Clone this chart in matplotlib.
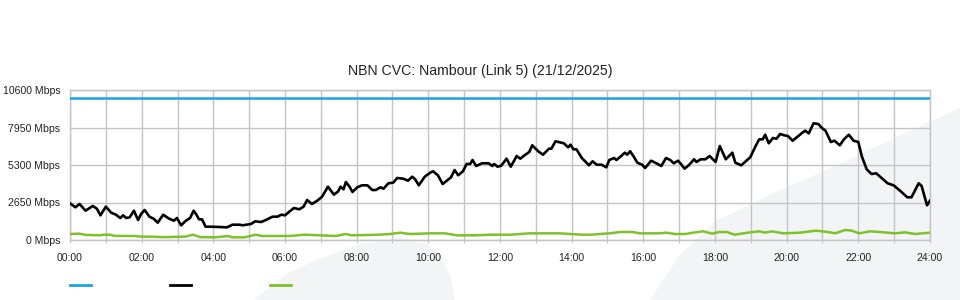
import matplotlib
matplotlib.use("Agg")
import matplotlib.pyplot as plt
from matplotlib.lines import Line2D
from matplotlib.patches import Polygon

plt.rcParams['font.family'] = ['Liberation Sans', 'DejaVu Sans']

title = "NBN CVC: Nambour (Link 5) (21/12/2025)"

capacity_mbps = 10000

traffic_minutes = [0, 9, 16, 26, 38, 45, 51, 60, 69, 77, 84, 89, 94, 100, 107, 114, 119, 125,
                   133, 140, 147, 156, 166, 174, 179, 186, 194, 201, 207, 211, 216, 221, 227, 236,
                   263, 272, 284, 289, 303, 310, 320, 328, 339, 347, 354, 360, 368, 375, 384, 391,
                   397, 405, 414, 422, 432, 442, 449, 453, 458, 462, 468, 473, 481, 489, 498, 506,
                   512, 520, 525, 533, 541, 548, 558, 566, 573, 578, 584, 594, 603, 608, 616, 624,
                   631, 638, 644, 650, 658, 664, 670, 674, 680, 690, 701, 707, 710, 716, 722, 731,
                   738, 748, 754, 761, 769, 774, 784, 792, 802, 806, 813, 823, 827, 834, 838, 843,
                   848, 857, 869, 875, 882, 890, 898, 903, 911, 915, 923, 929, 933, 938, 944, 950,
                   958, 963, 973, 982, 990, 998, 1005, 1011, 1018, 1024, 1029, 1036, 1045, 1049,
                   1056, 1064, 1071, 1081, 1088, 1098, 1109, 1114, 1124, 1139, 1147, 1154, 1160,
                   1164, 1170, 1177, 1183, 1189, 1196, 1202, 1210, 1217, 1225, 1231, 1237, 1245,
                   1253, 1259, 1265, 1274, 1280, 1289, 1296, 1304, 1312, 1320, 1326, 1334, 1342,
                   1350, 1359, 1369, 1379, 1391, 1402, 1409, 1421, 1426, 1435, 1440]
traffic_mbps = [2593, 2311, 2544, 2071, 2403, 2212, 1745, 2353, 1929, 1788, 1555, 1745, 1555, 1604,
                2071, 1413, 1837, 2120, 1647, 1505, 1223, 1788, 1505, 1364, 1555, 1039, 1364, 1555,
                2071, 1837, 1463, 1463, 940, 940, 897, 1081, 1081, 1039, 1131, 1321, 1272, 1413,
                1647, 1647, 1788, 1745, 2028, 2261, 2169, 2353, 2827, 2544, 2777, 3060, 3767, 3201,
                3441, 3767, 3583, 4099, 3767, 3392, 3724, 3865, 3865, 3533, 3533, 3724, 3625, 4007,
                4049, 4381, 4332, 4191, 4473, 4289, 3865, 4473, 4756, 4855, 4572, 3957, 4191, 4431,
                4947, 4572, 4855, 5371, 5371, 5653, 5229, 5420, 5420, 5229, 5371, 5180, 5250, 5745,
                5180, 5936, 5745, 5985, 6219, 6692, 6268, 6028, 6452, 6452, 6975, 6876, 6834, 6551,
                6735, 6409, 6409, 5795, 5279, 5562, 5321, 5321, 5137, 5653, 5795, 5653, 5936, 6169,
                6028, 6268, 5886, 5462, 5321, 5088, 5604, 5420, 5229, 5795, 5653, 5420, 5604, 5321,
                5038, 5279, 5703, 5512, 5703, 5703, 5936, 5512, 6643, 5703, 6169, 5462, 5279, 5844,
                6551, 7116, 7116, 7441, 6834, 7208, 7158, 7491, 7399, 7349, 7017, 7257, 7540, 7724,
                7540, 8247, 8197, 7915, 7724, 6925, 7017, 6692, 7116, 7441, 7017, 6925, 5886, 4996,
                4664, 4713, 4381, 4007, 3865, 3441, 3017, 3017, 4007, 3816, 2450, 2777]

other_minutes = [0, 15, 27, 50, 57, 67, 75, 109, 117, 134, 159, 176, 193, 206, 218, 243, 265, 271,
                 293, 311, 321, 368, 393, 419, 445, 462, 472, 516, 536, 553, 569, 603, 628, 648,
                 678, 703, 737, 770, 820, 857, 874, 887, 904, 921, 943, 954, 988, 998, 1013, 1030,
                 1043, 1060, 1075, 1088, 1100, 1113, 1135, 1154, 1164, 1175, 1195, 1222, 1249,
                 1269, 1281, 1298, 1309, 1321, 1340, 1356, 1381, 1398, 1415, 1440]
other_mbps = [424, 450, 360, 330, 375, 375, 290, 283, 240, 236, 200, 220, 236, 375, 200, 190, 283,
              190, 190, 375, 283, 283, 375, 330, 283, 424, 330, 375, 424, 518, 424, 471, 471, 330,
              330, 375, 375, 471, 471, 375, 375, 424, 471, 565, 565, 471, 471, 518, 424, 424, 518,
              612, 450, 565, 565, 375, 518, 612, 518, 612, 471, 518, 660, 565, 471, 707, 660, 471,
              612, 565, 471, 540, 424, 518]

y_ticks = [0, 2650, 5300, 7950, 10600]
x_tick_hours = list(range(0, 25, 2))
x_tick_labels = ["%02d:00" % h for h in x_tick_hours]

BLUE = "#1ba3e6"
GREEN = "#7fc12a"
GRID = "#c4c4c4"
TEXT = "#222222"
SWOOSH = "#f3f4f6"

fig = plt.figure(figsize=(9.6, 3.0), dpi=100)
fig.patch.set_facecolor("white")

# decorative background shapes (figure pixel coordinates, origin top-left)
def px(points):
    return [(x / 960, 1 - y / 300) for x, y in points]

fig.add_artist(Polygon(px([(650, 300), (680, 255), (714, 222), (770, 195), (826, 170),
                           (934, 120), (960, 108), (960, 300)]),
                       closed=True, facecolor=SWOOSH, edgecolor="none",
                       transform=fig.transFigure, zorder=0))
fig.add_artist(Polygon(px([(253, 300), (290, 272), (317, 260), (360, 244), (400, 238),
                           (425, 243), (440, 255), (450, 275), (455, 300)]),
                       closed=True, facecolor=SWOOSH, edgecolor="none",
                       transform=fig.transFigure, zorder=0))

ax = fig.add_axes([70 / 960, 60 / 300, 860 / 960, 150 / 300])
ax.set_facecolor("none")

th = [m / 60 for m in traffic_minutes]
oh = [m / 60 for m in other_minutes]
ax.plot([0, 24], [capacity_mbps, capacity_mbps], color=BLUE, lw=1.8, zorder=3)
ax.plot(th, traffic_mbps, color="black", lw=1.9, zorder=4, solid_joinstyle="round")
ax.plot(oh, other_mbps, color=GREEN, lw=1.8, zorder=3)

ax.set_xlim(0, 24)
ax.set_ylim(0, 10600)
ax.set_xticks(range(0, 25))
ax.set_xticklabels([x_tick_labels[i // 2] if i % 2 == 0 else "" for i in range(25)])
ax.set_yticks(y_ticks)
ax.set_yticklabels(["%d Mbps" % v for v in y_ticks])
ax.tick_params(axis="x", length=2, color=GRID, pad=7.5, labelsize=7.6, labelcolor=TEXT)
ax.tick_params(axis="y", length=0, pad=7, labelsize=7.6, labelcolor=TEXT)
ax.grid(True, color=GRID, lw=1.0, zorder=1)
ax.set_axisbelow(True)
for s in ax.spines.values():
    s.set_color(GRID)
    s.set_linewidth(1.0)

fig.text(0.5, 1 - 71 / 300, title, ha="center", va="center", fontsize=10.2, color=TEXT)

for x0, c in [(70, BLUE), (170, "black"), (270, GREEN)]:
    fig.add_artist(Line2D([x0 / 960, (x0 + 21) / 960], [1 - 285 / 300] * 2,
                          color=c, lw=2.0, transform=fig.transFigure))

fig.savefig("out.png", dpi=100)
